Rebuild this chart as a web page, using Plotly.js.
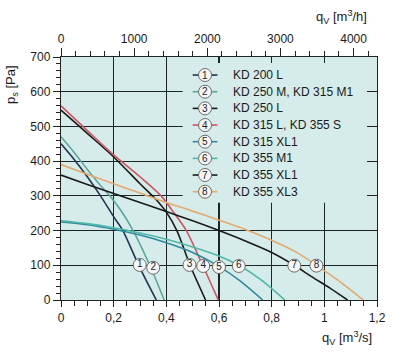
<!DOCTYPE html>
<html>
<head>
<meta charset="utf-8">
<script src="https://cdn.plot.ly/plotly-3.0.1.min.js"></script>
<style>
html,body{margin:0;padding:0;background:#fff;}
#chart{width:400px;height:353px;}
</style>
</head>
<body>
<div id="chart"></div>
<script>
// ---- data (q in m3/s, p in Pa) ----
const names = ["KD 200 L","KD 250 M, KD 315 M1","KD 250 L","KD 315 L, KD 355 S","KD 315 XL1","KD 355 M1","KD 355 XL1","KD 355 XL3"];
const digits = ["1","2","3","4","5","6","7","8"];
const q1 = [0,0.05,0.1,0.15,0.2,0.235,0.295,0.362];
const p1 = [450,405,355,300,240,200,100,0];
const q2 = [0,0.05,0.1,0.15,0.185,0.23,0.274,0.337,0.392];
const p2 = [470,425,376,330,300,255,200,100,0];
const q3 = [0,0.1,0.2,0.3,0.36,0.4,0.44,0.49,0.549];
const p3 = [547,480,412,335,290,253,200,100,0];
const q4 = [0,0.1,0.2,0.3,0.38,0.43,0.476,0.538,0.597];
const p4 = [559,488,418,355,300,250,200,100,0];
const q5 = [0,0.1,0.2,0.3,0.4,0.5,0.6,0.68,0.766];
const p5 = [225,217,204,187,165,137,97,55,0];
const q6 = [0,0.1,0.2,0.3,0.4,0.5,0.6,0.675,0.76,0.85];
const p6 = [228,220,208,193,175,153,127,100,58,0];
const q7 = [0,0.1,0.2,0.3,0.4,0.5,0.6,0.7,0.8,0.886,0.95,1.02,1.088];
const p7 = [360,333,307,281,255,228,200,170,137,100,68,35,0];
const q8 = [0,0.1,0.2,0.3,0.4,0.5,0.6,0.7,0.8,0.9,0.97,1.05,1.148];
const p8 = [390,362,335,308,281,256,230,203,172,135,100,58,0];
const labelQ = [0.299,0.35,0.488,0.54,0.6,0.675,0.886,0.97];
const labelP = [101,93,101,98,95,98,99,99];
const xTicks = [0,0.2,0.4,0.6,0.8,1,1.2];
const yTicks = [0,100,200,300,400,500,600,700];
const topTicks = [0,1000,2000,3000,4000];
const M3S_TO_M3H = 3600;

// ---- styles ----
const colors = ["#1f3550","#5aa89c","#1a1a1a","#d2525f","#2e8aa0","#50b8a8","#1a1a1a","#e3aa6e"];
const bg = "#d6ecea";
const gridCol = "#1c2626";
const font = "Liberation Sans, Arial, sans-serif";

const Q = [q1,q2,q3,q4,q5,q6,q7,q8];
const P = [p1,p2,p3,p4,p5,p6,p7,p8];
const traces = Q.map((q,i)=>({
  x:q, y:P[i], type:"scatter", mode:"lines",
  line:{color:colors[i], width:1.6, shape:"spline", smoothing:0.8},
  hoverinfo:"skip", showlegend:false
}));
// curve labels, drawn on the m3/h (top) axis and the right axis
traces.push({
  x:labelQ.map(q=>q*M3S_TO_M3H), y:labelP, xaxis:"x2", yaxis:"y2",
  type:"scatter", mode:"markers+text",
  text:digits, textposition:"middle center",
  textfont:{family:font, size:10, color:"#222"},
  marker:{size:13, color:"#f5f5f5", line:{color:"#6a6a6a", width:1}},
  hoverinfo:"skip", showlegend:false, cliponaxis:false
});

// ---- legend (drawn manually) ----
const legRowP0 = 648, legStep = 48;
const shapes = [{
  type:"rect", xref:"x", yref:"y", x0:0.462, x1:1.162, y0:280, y1:683,
  fillcolor:bg, line:{width:0}, layer:"above"
}];
const annotations = [];
names.forEach((n,i)=>{
  const yp = legRowP0 - i*legStep;
  shapes.push({type:"line", xref:"x", yref:"y", x0:0.50, x1:0.594, y0:yp, y1:yp,
    line:{color:colors[i], width:1.6}, layer:"above"});
  shapes.push({type:"circle", xref:"x", yref:"y", xsizemode:"pixel", ysizemode:"pixel",
    xanchor:0.547, yanchor:yp, x0:-6.5, x1:6.5, y0:-6.5, y1:6.5,
    fillcolor:"#f5f5f5", line:{color:"#6a6a6a", width:1}, layer:"above"});
  annotations.push({x:0.547, y:yp, xref:"x", yref:"y", text:digits[i], showarrow:false,
    font:{family:font, size:10, color:"#222"}, xanchor:"center", yanchor:"middle"});
  annotations.push({x:0.645, y:yp, xref:"x", yref:"y", text:n, showarrow:false,
    font:{family:font, size:12, color:"#1a1a1a"}, xanchor:"left", yanchor:"middle"});
});
annotations.push({xref:"paper", yref:"paper", x:-0.155, y:0.885, text:"p<sub>s</sub> [Pa]",
  textangle:-90, showarrow:false, font:{family:font, size:13, color:"#1a1a1a"}, xanchor:"center", yanchor:"middle"});
annotations.push({xref:"paper", yref:"paper", x:0.975, y:1.165, text:"q<sub>V</sub> [m<sup>3</sup>/h]",
  showarrow:false, font:{family:font, size:13, color:"#1a1a1a"}, xanchor:"right", yanchor:"middle"});
annotations.push({xref:"paper", yref:"paper", x:0.99, y:-0.155, text:"q<sub>V</sub> [m<sup>3</sup>/s]",
  showarrow:false, font:{family:font, size:13, color:"#1a1a1a"}, xanchor:"right", yanchor:"middle"});

const layout = {
  width:400, height:353,
  margin:{l:61, r:23, t:57, b:53},
  paper_bgcolor:"#ffffff", plot_bgcolor:bg,
  separators:", ",
  font:{family:font, size:12, color:"#1a1a1a"},
  showlegend:false, hovermode:false,
  xaxis:{range:[0,1.2], tickvals:xTicks, ticks:"outside", ticklen:6, tickwidth:1, tickcolor:"#222",
    minor:{dtick:0.05, ticks:"outside", ticklen:5, tickcolor:"#222", showgrid:false},
    showgrid:true, gridcolor:gridCol, gridwidth:1.2, zeroline:false,
    showline:true, linecolor:"#222", linewidth:1.2, mirror:true,
    tickfont:{family:font, size:12, color:"#1a1a1a"}},
  yaxis:{range:[0,700], tickvals:yTicks, ticks:"outside", ticklen:7, tickwidth:1, tickcolor:"#222",
    minor:{dtick:20, ticks:"outside", ticklen:4, tickcolor:"#222", showgrid:false},
    showgrid:true, gridcolor:gridCol, gridwidth:1.2, zeroline:false,
    showline:true, linecolor:"#222", linewidth:1.2, mirror:true,
    tickfont:{family:font, size:12, color:"#1a1a1a"}},
  xaxis2:{overlaying:"x", side:"top", anchor:"y", range:[0,1.2*M3S_TO_M3H], tickvals:topTicks,
    ticks:"outside", ticklen:8, tickwidth:1, tickcolor:"#222",
    minor:{dtick:200, ticks:"outside", ticklen:5, tickcolor:"#222", showgrid:false},
    showgrid:false, zeroline:false, showline:false,
    tickfont:{family:font, size:12, color:"#1a1a1a"}},
  yaxis2:{overlaying:"y", side:"right", anchor:"x", range:[0,700], tickvals:yTicks,
    ticks:"inside", ticklen:9, tickwidth:1, tickcolor:"#222",
    showticklabels:false, showgrid:false, zeroline:false, showline:false},
  shapes:shapes, annotations:annotations
};

Plotly.newPlot("chart", traces, layout, {staticPlot:true, displayModeBar:false});
</script>
</body>
</html>
